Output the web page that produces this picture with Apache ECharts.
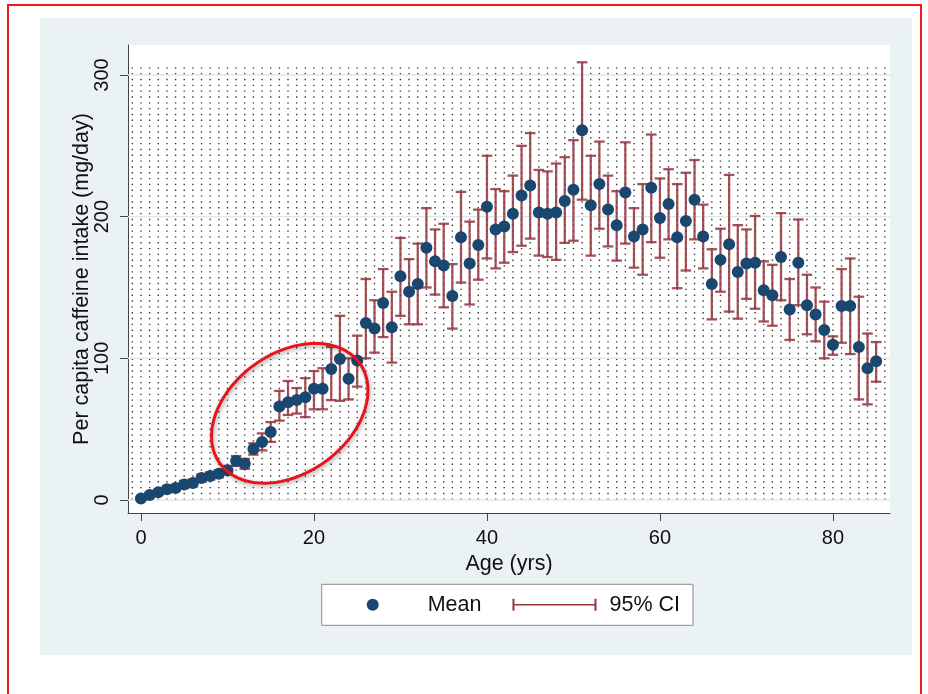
<!DOCTYPE html>
<html>
<head>
<meta charset="utf-8">
<script src="https://cdn.jsdelivr.net/npm/echarts@6/dist/echarts.min.js"></script>
<style>
html,body{margin:0;padding:0;background:#fff;}
#c{width:928px;height:694px;}
</style>
</head>
<body>
<div id="c"></div>
<script>
// ---- data ----
const ages = [0,1,2,3,4,5,6,7,8,9,10,11,12,13,14,15,16,17,18,19,20,21,22,23,24,25,26,27,28,29,30,31,32,33,34,35,36,37,38,39,40,41,42,43,44,45,46,47,48,49,50,51,52,53,54,55,56,57,58,59,60,61,62,63,64,65,66,67,68,69,70,71,72,73,74,75,76,77,78,79,80,81,82,83,84,85];
const meanIntake = [1,3.5,5.5,7.5,8.5,11,12,15.5,17,18.5,21,27.5,25.5,36,41,48,66,69,70.5,72.5,78.5,78.5,92.5,99.5,85.5,98.5,125,121,139,122,158,147,152.5,178,168.5,165.5,144,185.5,167,180,207,191,193,202,215,222,203,202,203,211,219,261,208,223,205,194,217,186,191,220.5,199,209,185.5,197,212,186,152.5,169.5,180.5,161,167,167.5,148,144.5,171.5,134.5,167.5,137.5,131,120,109.5,137,137,108,93,98];
const ciLow = [0,2,4,5.5,6.5,8.5,9.5,13,14.5,16,18,24,22,32,35,41,56,60,61,58.5,64,64,70.5,70,71,80,100,104,115,97,130,124,124,150,145,136,121,153.5,138,155.5,170.5,163.5,167.5,175,179.5,184.5,172.5,171.5,169.5,181.5,183,212,172.5,191.5,179,169,181,164,159,182,171,184,149.5,162,184,163.5,127.5,147,133,128,142,135,126,123,141,113,137.5,117,112,100,102.5,111,103,71,67.5,83.5];
const ciHigh = [2,5,7,9.5,10.5,13.5,14.5,18,19.5,21,24,31,29,40,47,55,77,84,79,86,91,93,108,130,100,116,156,141,163,147,185,170,181,206,191,195,166.5,217.5,196.5,205,243,219.5,218,229,250,259,233,232,237.5,242,254,309,243,253,229,218,252.5,206,223,258,227,233.5,223,231,240,208.5,177,191.5,229.5,194,191,200.5,168.5,166,202.5,156,198,159,150,140,115.5,163,170.5,143.5,117.5,111.5];
const xTicks = [0,20,40,60,80];
const yTicks = [0,100,200,300];
// highlighted region annotation (centre in data units: age, mg/day)
const highlightCentre = [17.2, 61.2];

const FONT = '"Liberation Sans", Arial, sans-serif';
const NAVY = '#1a476f';
const MAROON = '#93363d';

const meanData = ages.map((a,i)=>[a, meanIntake[i]]);
const ciData = ages.map((a,i)=>[a, ciLow[i], ciHigh[i]]);
// decorative dotted lattice columns (one per year), like the reference's plot-region pattern
const latticeCols = [];
for (let a = -1; a <= 86; a++) latticeCols.push([a, 0]);
const latticeTop = 307;

const chart = echarts.init(document.getElementById('c'), null, {renderer:'canvas'});
chart.setOption({
  animation:false,
  backgroundColor:'#ffffff',
  textStyle:{fontFamily:FONT},
  graphic:[
    {type:'rect', z:-10, shape:{x:40,y:18,width:872,height:637}, style:{fill:'#eaf2f3'}},
    {type:'rect', z:-9, shape:{x:128,y:45,width:762,height:468}, style:{fill:'#ffffff'}},
    {type:'rect', z:100, shape:{x:8,y:5,width:913,height:720}, style:{fill:'none',stroke:'#ee1c1c',lineWidth:2}}
  ],
  grid:{left:128, top:45, right:38, bottom:181, containLabel:false},
  xAxis:{
    type:'value', min:-1.5, max:86.6,
    name:'Age (yrs)', nameLocation:'middle', nameGap:39,
    nameTextStyle:{fontFamily:FONT,fontSize:21.5,color:'#111'},
    axisLine:{show:true,onZero:false,lineStyle:{color:'#444',width:1}},
    axisTick:{show:true,length:8,customValues:xTicks,lineStyle:{color:'#444'}},
    axisLabel:{customValues:xTicks,margin:15,fontFamily:FONT,fontSize:20,color:'#111'},
    splitLine:{show:false}
  },
  yAxis:{
    type:'value', min:-9.2, max:321.2,
    name:'Per capita caffeine intake (mg/day)', nameLocation:'middle', nameGap:35,
    nameMoveOverlap:false,
    nameTextStyle:{fontFamily:FONT,fontSize:21.5,color:'#111'},
    axisLine:{show:true,onZero:false,lineStyle:{color:'#444',width:1}},
    axisTick:{show:true,length:8,customValues:yTicks,lineStyle:{color:'#444'}},
    axisLabel:{customValues:yTicks,rotate:90,margin:16,fontFamily:FONT,fontSize:20,color:'#111'},
    splitLine:{show:false}
  },
  legend:{
    data:[
      {name:'Mean', icon:'circle'},
      {name:'95% CI', icon:'path://M0,0h2v12h-2z M0,5.2h84v1.6h-84z M82,0h2v12h-2z'}
    ],
    left:321.7, top:584.3,
    orient:'horizontal',
    itemWidth:84, itemHeight:12, itemGap:31,
    padding:[9,13,9,45],
    backgroundColor:'#ffffff', borderColor:'#8a8a8a', borderWidth:1,
    textStyle:{fontFamily:FONT,fontSize:21.5,color:'#111',padding:[0,0,0,8],lineHeight:23}
  },
  series:[
    {
      type:'custom', name:'lattice', silent:true, z:1,
      data:latticeCols,
      renderItem:function(params, api){
        const p0 = api.coord([api.value(0), 0]);
        const p1 = api.coord([api.value(0), latticeTop]);
        return {type:'line', shape:{x1:p0[0],y1:p0[1],x2:p1[0],y2:p1[1]},
          style:{stroke:'#3a3a3a',lineWidth:1.4,lineDash:[1.4,4.43]}};
      }
    },
    {
      type:'custom', name:'gridlines', silent:true, z:1,
      data:yTicks.map(v=>[0,v]),
      renderItem:function(params, api){
        const cs = params.coordSys;
        const p = api.coord([0, api.value(1)]);
        return {type:'line', shape:{x1:cs.x,y1:p[1],x2:cs.x+cs.width,y2:p[1]},
          style:{stroke:'#dfe9ec',lineWidth:1.5}};
      }
    },
    {
      type:'custom', name:'95% CI', z:3,
      itemStyle:{color:MAROON},
      data:ciData,
      encode:{x:0, y:[1,2]},
      renderItem:function(params, api){
        const x = api.value(0);
        const lo = api.coord([x, api.value(1)]);
        const hi = api.coord([x, api.value(2)]);
        const w = 5.3;
        const st = {stroke:MAROON, lineWidth:2.3, opacity:0.85};
        return {type:'group', children:[
          {type:'line', shape:{x1:lo[0],y1:lo[1],x2:hi[0],y2:hi[1]}, style:st},
          {type:'line', shape:{x1:lo[0]-w,y1:lo[1],x2:lo[0]+w,y2:lo[1]}, style:st},
          {type:'line', shape:{x1:hi[0]-w,y1:hi[1],x2:hi[0]+w,y2:hi[1]}, style:st}
        ]};
      }
    },
    {
      type:'scatter', name:'Mean', z:5,
      symbol:'circle', symbolSize:12,
      itemStyle:{color:NAVY, opacity:1},
      data:meanData
    },
    {
      type:'custom', name:'highlight', silent:true, z:6,
      data:[highlightCentre],
      renderItem:function(params, api){
        const c = api.coord([api.value(0), api.value(1)]);
        const a = 86, b = 60, th = -35.5*Math.PI/180;
        const pts = [];
        for (let k = 0; k < 120; k++) {
          const t = 2*Math.PI*k/120;
          const ex = a*Math.cos(t), ey = b*Math.sin(t);
          pts.push([c[0] + ex*Math.cos(th) - ey*Math.sin(th), c[1] + ex*Math.sin(th) + ey*Math.cos(th)]);
        }
        return {type:'polygon', shape:{points:pts},
          style:{fill:'none', stroke:'#e8141b', lineWidth:3,
            shadowBlur:4, shadowColor:'rgba(0,0,0,0.35)', shadowOffsetX:1, shadowOffsetY:2}};
      }
    }
  ]
});
</script>
</body>
</html>
